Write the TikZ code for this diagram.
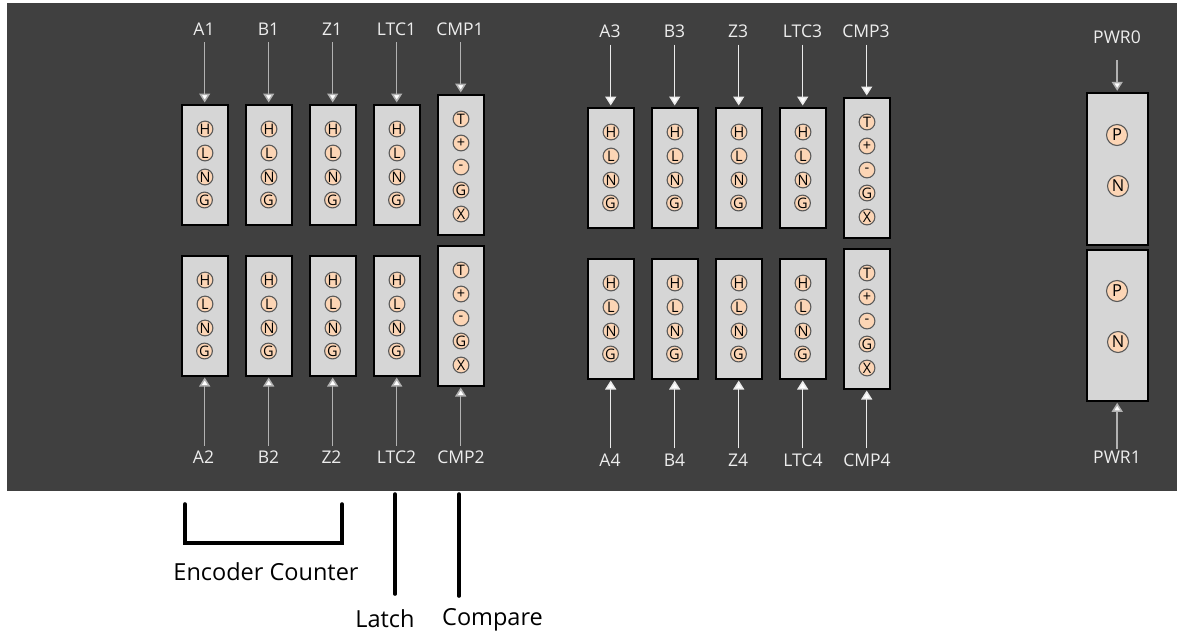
\documentclass[tikz,border=0pt]{standalone}
\usepackage{fontspec}
\setmainfont{Open Sans}
\usetikzlibrary{arrows.meta}
\definecolor{panel}{HTML}{404040}
\definecolor{boxgray}{HTML}{D6D6D6}
\definecolor{peach}{HTML}{FCD5B5}
\definecolor{labelc}{HTML}{EDEDED}
\tikzset{
  x=1pt,y=-1pt,
  termbox/.style={draw=black,line width=2pt,fill=boxgray,inner sep=0pt,outer sep=0pt,minimum width=46pt},
  pwrbox/.style={draw=black,line width=2pt,fill=boxgray,inner sep=0pt,outer sep=0pt,minimum width=61pt},
  pin/.style={circle,draw=black!65,line width=1.1pt,fill=peach,inner sep=0pt,outer sep=0pt,minimum size=15.8pt,text=black,font=\fontsize{14.5}{14.5}\selectfont},
  bigpin/.style={circle,draw=black!65,line width=1.1pt,fill=peach,inner sep=0pt,outer sep=0pt,minimum size=21pt,text=black,font=\fontsize{16.5}{16.5}\selectfont},
  sig/.style={text=labelc,anchor=base,inner sep=0pt,outer sep=0pt,font=\fontsize{17.5}{20}\selectfont},
  note/.style={text=black,anchor=base,inner sep=0pt,outer sep=0pt,font=\fontsize{23.5}{27}\selectfont},
  arrdim/.style={draw=black!30,line width=1.5pt,-{Triangle[length=9pt,width=11pt,fill=white]},shorten >=2pt,shorten <=7pt},
  arrlit/.style={draw=black!8,line width=1.5pt,-{Triangle[length=9pt,width=11pt,fill=white]},shorten >=2pt,shorten <=7pt},
  marker/.style={draw=black,line width=3.6pt,line cap=round,line join=miter},
}
% four-terminal block: name, centre x, top y
\newcommand{\fourblock}[3]{%
  \node[termbox,minimum height=120pt] (#1) at (#2-0.3,#3+60.5) {};
  \node[pin] (#1H) at (#2,#3+25) {H};
  \node[pin] (#1L) at (#2,#3+49) {L};
  \node[pin] (#1N) at (#2,#3+73) {N};
  \node[pin] (#1G) at (#2-0.5,#3+96) {G};
}
% five-terminal block: name, centre x, top y
\newcommand{\fiveblock}[3]{%
  \node[termbox,minimum height=140pt] (#1) at (#2-0.3,#3+70.5) {};
  \node[pin] (#1T) at (#2,#3+25) {T};
  \node[pin] (#1P) at (#2,#3+49) {+};
  \node[pin] (#1M) at (#2,#3+73) {-};
  \node[pin] (#1G) at (#2,#3+96) {G};
  \node[pin] (#1X) at (#2,#3+120) {X};
}
% signal label and arrow from above: name, text, label x, baseline y, style
\newcommand{\topsig}[5]{%
  \node[sig] (l#1) at (#3,#4) {#2};
  \draw[#5] (l#1.south -| #1.north) -- (#1.north);
}
% signal label and arrow from below: the arrow starts at a point above the text
\newcommand{\botsig}[5]{%
  \node[sig] (l#1) at (#3,#4) {#2};
  \draw[#5,shorten <=5pt] (l#1.north -| #1.south) -- (#1.south);
}
\begin{document}
\begin{tikzpicture}
\useasboundingbox (0,0) rectangle (1177,633);
\fill[white] (0,0) rectangle (1177,633);
\fill[panel] (7,3) rectangle (1177,490.5);

% group 1/2
\fourblock{A1}{205}{104}
\fourblock{B1}{269}{104}
\fourblock{Z1}{333}{104}
\fourblock{LTC1}{397}{104}
\fiveblock{CMP1}{461}{94}
\fourblock{A2}{205}{255}
\fourblock{B2}{269}{255}
\fourblock{Z2}{333}{255}
\fourblock{LTC2}{397}{255}
\fiveblock{CMP2}{461}{245}
% group 3/4
\fourblock{A3}{611}{107}
\fourblock{B3}{675}{107}
\fourblock{Z3}{739}{107}
\fourblock{LTC3}{803}{107}
\fiveblock{CMP3}{867}{97}
\fourblock{A4}{611}{258}
\fourblock{B4}{675}{258}
\fourblock{Z4}{739}{258}
\fourblock{LTC4}{803}{258}
\fiveblock{CMP4}{867}{248}
% power
\node[pwrbox,minimum height=152pt] (PWR0) at (1117.2,168.8) {};
\node[bigpin] (PWR0P) at (1117,135) {P};
\node[bigpin] (PWR0N) at (1118,186) {N};
\node[pwrbox,minimum height=151pt] (PWR1) at (1117.2,325.3) {};
\node[bigpin] (PWR1P) at (1117,291) {P};
\node[bigpin] (PWR1N) at (1118,342) {N};

% signals
\topsig{A1}{A1}{204}{35}{arrdim}
\topsig{B1}{B1}{268.5}{35}{arrdim}
\topsig{Z1}{Z1}{332}{35}{arrdim}
\topsig{LTC1}{LTC1}{396.5}{35}{arrdim}
\topsig{CMP1}{CMP1}{460}{35}{arrdim}
\botsig{A2}{A2}{203.5}{463.5}{arrdim}
\botsig{B2}{B2}{268.5}{463.5}{arrdim}
\botsig{Z2}{Z2}{331.5}{463.5}{arrdim}
\botsig{LTC2}{LTC2}{396.5}{463.5}{arrdim}
\botsig{CMP2}{CMP2}{461}{463.5}{arrdim}
\topsig{A3}{A3}{610}{37.5}{arrlit}
\topsig{B3}{B3}{674.5}{37.5}{arrlit}
\topsig{Z3}{Z3}{738}{37.5}{arrlit}
\topsig{LTC3}{LTC3}{802.5}{37.5}{arrlit}
\topsig{CMP3}{CMP3}{866}{37.5}{arrlit}
\botsig{A4}{A4}{610}{466}{arrlit}
\botsig{B4}{B4}{674.5}{466}{arrlit}
\botsig{Z4}{Z4}{738}{466}{arrlit}
\botsig{LTC4}{LTC4}{803}{466}{arrlit}
\botsig{CMP4}{CMP4}{867}{466}{arrlit}
\node[sig] (lPWR0) at (1117,43) {PWR0};
\draw[arrdim,shorten <=17pt] (lPWR0.south -| PWR0.north) -- (PWR0.north);
\node[sig] (lPWR1) at (1117,463) {PWR1};
\draw[arrdim,shorten <=2pt] (lPWR1.north -| PWR1.south) -- (PWR1.south);

% annotations
\coordinate (brA) at (185,504);
\coordinate (brB) at (185,543);
\coordinate (brC) at (342,543);
\coordinate (brD) at (342,504);
\draw[marker] (brA) -- (brB) -- (brC) -- (brD);
\node[note] (enc) at (266,580) {Encoder Counter};
\node[note] (latch) at (385,627) {Latch};
\node[note] (comp) at (492.5,625) {Compare};
\coordinate (latchtop) at (395,494);
\coordinate (comptop) at (459,494);
\draw[marker] (latchtop) -- (latchtop |- 0,594);
\draw[marker] (comptop) -- (comptop |- 0,596);
\end{tikzpicture}
\end{document}
